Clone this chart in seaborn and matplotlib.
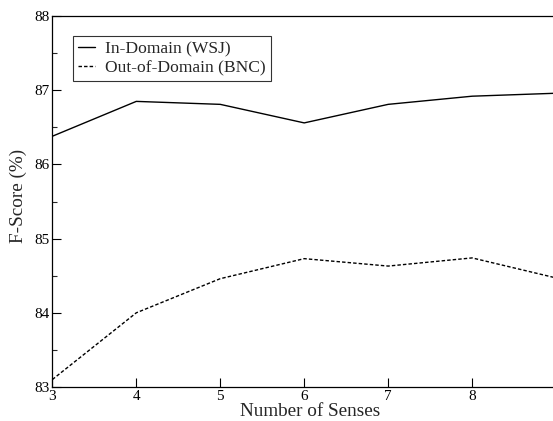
import pandas as pd
import matplotlib
matplotlib.use("Agg")
import matplotlib.pyplot as plt
from matplotlib.ticker import MultipleLocator
import seaborn as sns

# values
senses = [3, 4, 5, 6, 7, 8, 9]
in_domain = [86.38, 86.85, 86.81, 86.56, 86.81, 86.92, 86.96]
out_domain = [83.10, 84.00, 84.46, 84.73, 84.63, 84.74, 84.47]
series_names = ["In-Domain (WSJ)", "Out-of-Domain (BNC)"]

df = pd.concat([
    pd.DataFrame({"Senses": senses, "F": in_domain, "Domain": series_names[0]}),
    pd.DataFrame({"Senses": senses, "F": out_domain, "Domain": series_names[1]}),
])

sns.set_style("ticks")
plt.rcParams["font.family"] = ["Liberation Serif", "DejaVu Serif"]

fig = plt.figure(figsize=(5.53, 4.21), dpi=100)
ax = fig.add_axes([0.0946, 0.0808, 0.911, 0.881])

sns.lineplot(data=df, x="Senses", y="F", style="Domain", color="black",
             dashes={series_names[0]: "", series_names[1]: (2.5, 1.5)},
             linewidth=1.0, ax=ax)

ax.set_xlim(3, 9)
ax.set_ylim(83, 88)
ax.xaxis.set_major_locator(MultipleLocator(1))
ax.yaxis.set_major_locator(MultipleLocator(1))
ax.yaxis.set_minor_locator(MultipleLocator(0.5))
ax.tick_params(axis="both", which="major", direction="in", length=6.5, width=0.8,
               labelsize=11, pad=2, colors="black")
ax.tick_params(axis="y", which="minor", direction="in", length=3.5, width=0.8)
for s in ax.spines.values():
    s.set_linewidth(0.9)
    s.set_color("black")

ax.set_xlabel("Number of Senses", fontsize=13.8)
ax.set_ylabel("F-Score (%)", fontsize=13.8)
ax.xaxis.set_label_coords(0.512, -0.043)
ax.yaxis.set_label_coords(-0.050, 0.516)

leg = ax.legend(loc="upper left", bbox_to_anchor=(0.041, 0.946), borderaxespad=0,
                fontsize=12.6, frameon=True, fancybox=False, edgecolor="black",
                handlelength=1.0, handletextpad=0.55, borderpad=0.28,
                labelspacing=0.15, title=None)
leg.get_frame().set_linewidth(0.8)

fig.savefig("out.png", dpi=100)
